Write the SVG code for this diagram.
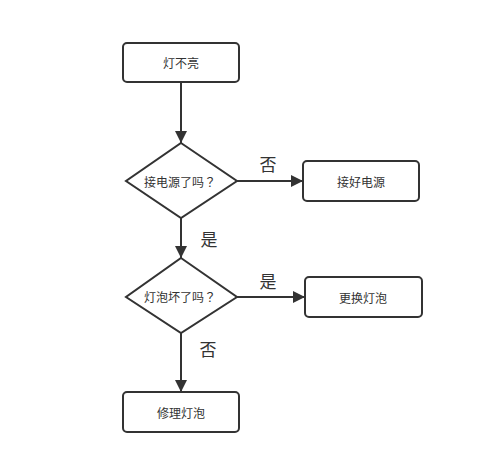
<svg xmlns="http://www.w3.org/2000/svg" width="500" height="456" viewBox="0 0 500 456">
<defs>
<marker id="arr" viewBox="0 0 10 10" refX="10" refY="5" markerWidth="6" markerHeight="6" markerUnits="strokeWidth" orient="auto">
<path d="M0,0 L10,5 L0,10 Z" fill="#333"/>
</marker>
<style>
.n{fill:#fff;stroke:#333;stroke-width:2}
.t{font-family:"Noto Sans CJK SC","Liberation Sans",sans-serif;font-size:12px;fill:#333;text-anchor:middle;dominant-baseline:central}
.q{font-family:"Noto Sans CJK TC","Noto Sans CJK SC",sans-serif}
.l{font-family:"Noto Sans CJK SC","Liberation Sans",sans-serif;font-size:17px;fill:#333;text-anchor:middle;dominant-baseline:central}
.e{fill:none;stroke:#333;stroke-width:2;marker-end:url(#arr)}
</style>
</defs>
<rect width="500" height="456" fill="#fff"/>
<g id="edges">
<path class="e" d="M181,82 L181,143"/>
<path class="e" d="M237,181 L303,181"/>
<path class="e" d="M181,218 L181,258"/>
<path class="e" d="M237,297 L305,297"/>
<path class="e" d="M181,333 L181,392"/>
<text class="l" x="268" y="163">否</text>
<text class="l" x="209" y="238">是</text>
<text class="l" x="268" y="280">是</text>
<text class="l" x="208" y="348">否</text>
</g>
<g id="start"><rect class="n" x="123" y="43" width="116" height="39" rx="4"/><text class="t" x="181" y="62.5">灯不亮</text></g>
<g id="d1"><path class="n" d="M181,143 L237,181 L181,218 L126,181 Z"/><text class="t" x="180" y="181">接电源了吗<tspan class="q">？</tspan></text></g>
<g id="b2"><rect class="n" x="303" y="161" width="116" height="40" rx="4"/><text class="t" x="361" y="181">接好电源</text></g>
<g id="d2"><path class="n" d="M181,258 L237,297 L181,333 L126,297 Z"/><text class="t" x="180" y="296">灯泡坏了吗<tspan class="q">？</tspan></text></g>
<g id="b3"><rect class="n" x="305" y="277" width="117" height="40" rx="4"/><text class="t" x="363" y="297">更换灯泡</text></g>
<g id="b4"><rect class="n" x="123" y="392" width="116" height="40" rx="4"/><text class="t" x="181" y="412">修理灯泡</text></g>
</svg>
